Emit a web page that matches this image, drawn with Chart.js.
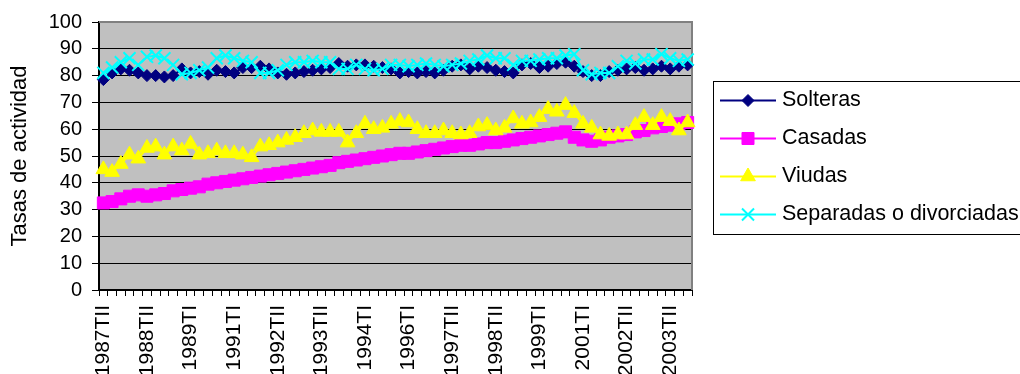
<!DOCTYPE html>
<html>
<head>
<meta charset="utf-8">
<script src="https://cdn.jsdelivr.net/npm/chart.js@4/dist/chart.umd.min.js"></script>
<style>
  body { margin: 0; background: #fff; }
  canvas { display: block; }
</style>
</head>
<body>
<canvas id="chart" width="1020" height="374"></canvas>
<script>
// tick labels visible on the x axis (one every 5 quarters)
const tickLabels = ['1987TII', '1988TII', '1989TI', '1991TI', '1992TII', '1993TII', '1994TI',
    '1996TI', '1997TII', '1998TII', '1999TI', '2001TI', '2002TII', '2003TII'];

const solteras = [78.5, 81, 82.5, 82, 81, 80, 80, 79.5, 80, 82.5,
    81, 81.5, 80.5, 82, 81.5, 81, 83, 83, 83.5, 82.5,
    81, 80.5, 81, 81.5, 82, 82.5, 83, 84.5, 83.5, 84,
    84, 83.5, 83, 82.5, 81, 81.5, 81, 81.5, 81, 82,
    83.5, 84, 82.5, 83.5, 83, 82, 81.5, 81, 84, 84.5,
    83, 83.5, 84.5, 85, 83.5, 81.5, 80, 80, 81.5, 82,
    82.5, 83, 82, 82.5, 83.5, 82.5, 83.5, 84];

const casadas = [32.5, 33, 34, 35, 35.5, 35, 35.5, 36, 37, 37.5,
    38, 38.5, 39.5, 40, 40.5, 41, 41.5, 42, 42.5, 43,
    43.5, 44, 44.5, 45, 45.5, 46, 46.5, 47.5, 48, 48.5,
    49, 49.5, 50, 50.5, 51, 51, 51.5, 52, 52.5, 53,
    53.5, 54, 54, 54.5, 55, 55, 55.5, 56, 56.5, 57,
    57.5, 58, 58.5, 59, 57, 56, 55.5, 56, 57, 57.5,
    58, 59, 59.5, 60.5, 61, 61.5, 62, 62.5];

const viudas = [45, 44, 47, 50.5, 49, 53, 53.5, 50.5, 53.5, 52,
    54.5, 50.5, 51, 52, 51, 51, 50.5, 49.5, 53.5, 54,
    55, 56, 57, 58.5, 59.5, 59, 59, 59, 55, 58.5,
    62, 60, 60.5, 62, 63, 62.5, 60, 58.5, 58.5, 59.5,
    58.5, 58, 58.5, 61, 61.5, 59.5, 60.5, 64, 62, 62.5,
    64.5, 67.5, 66.5, 69, 66, 62, 60.5, 58, 57.5, 58,
    58, 61.5, 64.5, 61.5, 64.5, 63, 59.5, 62.5];

const separadas = [81, 83, 85, 86.5, 84, 87, 87.5, 86.5, 84, 80.5,
    81, 82, 83, 86.5, 87.5, 86.5, 85.5, 85, 81, 81,
    82, 84, 85, 85, 85.5, 85, 85, 82.5, 82.5, 84,
    82.5, 82, 82.5, 84, 84, 83.5, 84, 84.5, 84, 83.5,
    84, 84.5, 85.5, 86, 87.5, 86.5, 86.5, 84, 85.5, 85.5,
    86, 86.5, 86.5, 87.5, 88, 82, 80.5, 81, 81, 83.5,
    85.5, 84.5, 86, 86, 88, 86.5, 85.5, 86];

const FONT = "'Liberation Sans', Arial, sans-serif";

const periods = solteras.map((v, i) => (i % 5 === 0 ? tickLabels[i / 5] : ''));

function series(label, data, color, style, radius, bw, order) {
    return {
        label: label,
        data: data,
        borderColor: color,
        backgroundColor: color,
        borderWidth: 2,
        pointStyle: style,
        pointRadius: radius,
        pointBorderWidth: bw,
        pointBackgroundColor: color,
        pointBorderColor: color,
        order: order
    };
}

// grey plot area with its frame
const plotFrame = {
    id: 'plotFrame',
    beforeDraw(chart) {
        const { ctx, chartArea: a } = chart;
        ctx.save();
        ctx.fillStyle = '#c0c0c0';
        ctx.fillRect(a.left, a.top, a.right - a.left, a.bottom - a.top);
        ctx.restore();
    },
    beforeDatasetsDraw(chart) {
        const { ctx, chartArea: a } = chart;
        ctx.save();
        ctx.strokeStyle = '#808080';
        ctx.lineWidth = 2;
        ctx.beginPath();
        ctx.moveTo(a.left, a.top);
        ctx.lineTo(a.right, a.top);
        ctx.lineTo(a.right, a.bottom);
        ctx.stroke();
        ctx.restore();
    }
};

// excel-style legend: line with marker, inside a framed box
const lineLegend = {
    id: 'lineLegend',
    afterDraw(chart) {
        const ctx = chart.ctx;
        ctx.save();
        ctx.strokeStyle = '#000';
        ctx.lineWidth = 1;
        ctx.strokeRect(713.5, 81.5, 330, 153);
        chart.data.datasets.forEach((ds, i) => {
            const y = 100.5 + i * 38;
            ctx.strokeStyle = ds.borderColor;
            ctx.lineWidth = 2;
            ctx.beginPath();
            ctx.moveTo(720, y);
            ctx.lineTo(776, y);
            ctx.stroke();
            ctx.fillStyle = ds.pointBackgroundColor;
            ctx.strokeStyle = ds.pointBorderColor;
            ctx.lineWidth = ds.pointBorderWidth;
            Chart.helpers.drawPoint(ctx, {
                pointStyle: ds.pointStyle,
                radius: ds.pointRadius,
                borderWidth: ds.pointBorderWidth,
                rotation: 0
            }, 748, y);
            ctx.fillStyle = '#000';
            ctx.font = '21.5px ' + FONT;
            ctx.textBaseline = 'middle';
            ctx.textAlign = 'left';
            ctx.fillText(ds.label, 782, y);
        });
        ctx.restore();
    }
};

new Chart(document.getElementById('chart'), {
    type: 'line',
    data: {
        labels: periods,
        datasets: [
            series('Solteras', solteras, '#000080', 'rectRot', 6, 1, 3),
            series('Casadas', casadas, '#ff00ff', 'rect', 8.5, 1, 2),
            series('Viudas', viudas, '#ffff00', 'triangle', 8.5, 1, 1),
            series('Separadas o divorciadas', separadas, '#00ffff', 'crossRot', 8.5, 2, 0)
        ]
    },
    options: {
        responsive: false,
        animation: false,
        layout: { padding: { left: 0, top: 21, right: 328, bottom: 0 } },
        plugins: {
            legend: { display: false },
            tooltip: { enabled: false }
        },
        scales: {
            x: {
                offset: true,
                afterFit: scale => { scale.height = 84; },
                grid: {
                    offset: true,
                    drawOnChartArea: false,
                    drawTicks: true,
                    tickLength: 6,
                    tickColor: '#000'
                },
                border: { display: true, color: '#000', width: 2 },
                ticks: {
                    autoSkip: false,
                    minRotation: 90,
                    maxRotation: 90,
                    padding: 9,
                    color: '#000',
                    font: { family: FONT, size: 21 }
                }
            },
            y: {
                min: 0,
                max: 100,
                afterFit: scale => { scale.width = 99; },
                grid: {
                    color: ctx => (ctx.tick && ctx.tick.value === 100 ? '#808080' : '#000'),
                    lineWidth: 1,
                    tickLength: 7,
                    tickColor: '#000'
                },
                border: { display: true, color: '#000', width: 2 },
                ticks: {
                    autoSkip: false,
                    stepSize: 10,
                    padding: 10,
                    color: '#000',
                    font: { family: FONT, size: 20 }
                },
                title: {
                    display: true,
                    text: 'Tasas de actividad',
                    color: '#000',
                    padding: { top: 7, bottom: 0 },
                    font: { family: FONT, size: 22 }
                }
            }
        }
    },
    plugins: [plotFrame, lineLegend]
});
</script>
</body>
</html>
